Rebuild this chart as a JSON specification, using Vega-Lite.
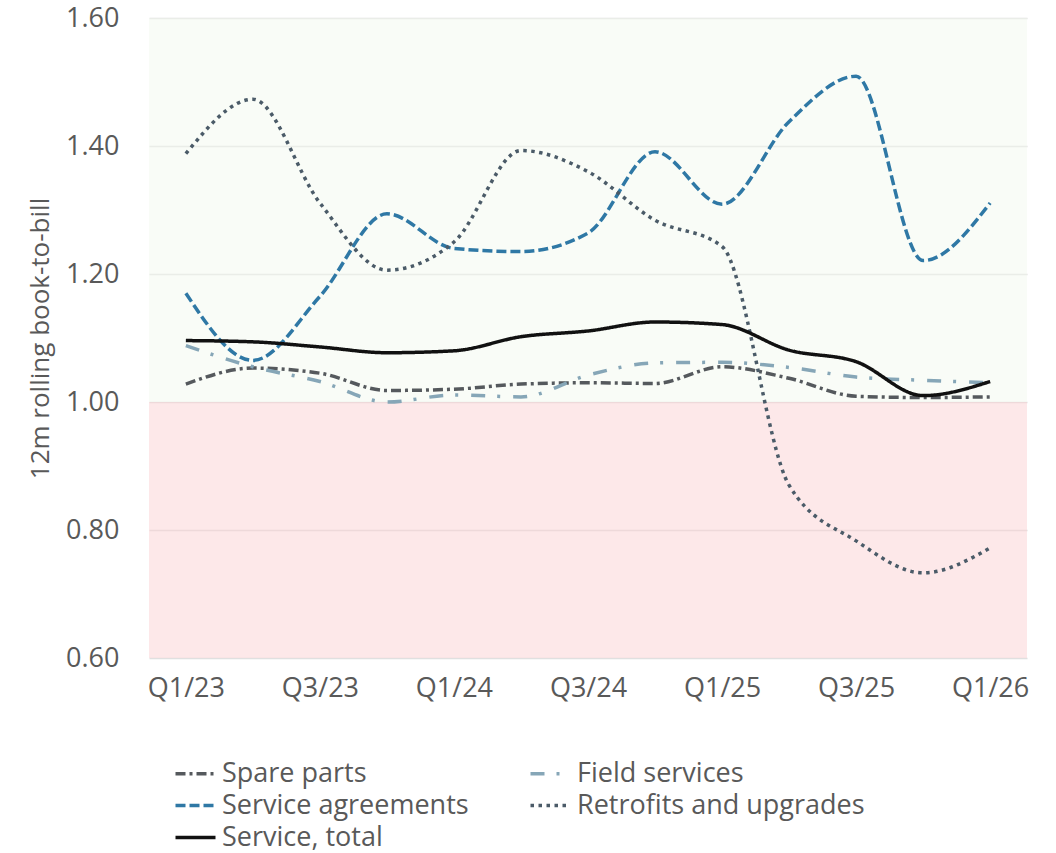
{
  "$schema": "https://vega.github.io/schema/vega-lite/v6.json",
  "width": 878,
  "height": 640,
  "autosize": {"type": "none"},
  "padding": {"left": 149, "top": 18, "right": 29, "bottom": 195},
  "background": "white",
  "config": {
    "font": "Open Sans",
    "view": {"stroke": null},
    "axis": {"labelFont": "Open Sans", "titleFont": "Open Sans"},
    "legend": {"labelFont": "Open Sans"}
  },
  "layer": [
    {
      "data": {"values": [{"lo": 1.0, "hi": 1.6}]},
      "mark": {"type": "rect", "color": "#f3f9ef", "opacity": 0.5},
      "encoding": {
        "y": {"field": "lo", "type": "quantitative", "title": "12m rolling book-to-bill",
              "scale": {"domain": [0.6, 1.6], "nice": false, "zero": false}},
        "y2": {"field": "hi"}
      }
    },
    {
      "data": {"values": [{"lo": 0.6, "hi": 1.0}]},
      "mark": {"type": "rect", "color": "#fbd1d3", "opacity": 0.5},
      "encoding": {
        "y": {"field": "lo", "type": "quantitative", "title": "12m rolling book-to-bill"},
        "y2": {"field": "hi"}
      }
    },
    {
      "data": {
        "values": [
          {"q": "Q1/23", "series": "Spare parts", "v": 1.028},
          {"q": "Q2/23", "series": "Spare parts", "v": 1.053},
          {"q": "Q3/23", "series": "Spare parts", "v": 1.045},
          {"q": "Q4/23", "series": "Spare parts", "v": 1.018},
          {"q": "Q1/24", "series": "Spare parts", "v": 1.020},
          {"q": "Q2/24", "series": "Spare parts", "v": 1.028},
          {"q": "Q3/24", "series": "Spare parts", "v": 1.030},
          {"q": "Q4/24", "series": "Spare parts", "v": 1.029},
          {"q": "Q1/25", "series": "Spare parts", "v": 1.055},
          {"q": "Q2/25", "series": "Spare parts", "v": 1.037},
          {"q": "Q3/25", "series": "Spare parts", "v": 1.009},
          {"q": "Q4/25", "series": "Spare parts", "v": 1.007},
          {"q": "Q1/26", "series": "Spare parts", "v": 1.008},
          {"q": "Q1/23", "series": "Field services", "v": 1.088},
          {"q": "Q2/23", "series": "Field services", "v": 1.055},
          {"q": "Q3/23", "series": "Field services", "v": 1.032},
          {"q": "Q4/23", "series": "Field services", "v": 1.000},
          {"q": "Q1/24", "series": "Field services", "v": 1.011},
          {"q": "Q2/24", "series": "Field services", "v": 1.008},
          {"q": "Q3/24", "series": "Field services", "v": 1.042},
          {"q": "Q4/24", "series": "Field services", "v": 1.061},
          {"q": "Q1/25", "series": "Field services", "v": 1.062},
          {"q": "Q2/25", "series": "Field services", "v": 1.054},
          {"q": "Q3/25", "series": "Field services", "v": 1.039},
          {"q": "Q4/25", "series": "Field services", "v": 1.034},
          {"q": "Q1/26", "series": "Field services", "v": 1.030},
          {"q": "Q1/23", "series": "Service agreements", "v": 1.170},
          {"q": "Q2/23", "series": "Service agreements", "v": 1.065},
          {"q": "Q3/23", "series": "Service agreements", "v": 1.165},
          {"q": "Q4/23", "series": "Service agreements", "v": 1.294},
          {"q": "Q1/24", "series": "Service agreements", "v": 1.240},
          {"q": "Q2/24", "series": "Service agreements", "v": 1.235},
          {"q": "Q3/24", "series": "Service agreements", "v": 1.264},
          {"q": "Q4/24", "series": "Service agreements", "v": 1.391},
          {"q": "Q1/25", "series": "Service agreements", "v": 1.309},
          {"q": "Q2/25", "series": "Service agreements", "v": 1.438},
          {"q": "Q3/25", "series": "Service agreements", "v": 1.509},
          {"q": "Q4/25", "series": "Service agreements", "v": 1.221},
          {"q": "Q1/26", "series": "Service agreements", "v": 1.311},
          {"q": "Q1/23", "series": "Retrofits and upgrades", "v": 1.388},
          {"q": "Q2/23", "series": "Retrofits and upgrades", "v": 1.473},
          {"q": "Q3/23", "series": "Retrofits and upgrades", "v": 1.311},
          {"q": "Q4/23", "series": "Retrofits and upgrades", "v": 1.206},
          {"q": "Q1/24", "series": "Retrofits and upgrades", "v": 1.250},
          {"q": "Q2/24", "series": "Retrofits and upgrades", "v": 1.393},
          {"q": "Q3/24", "series": "Retrofits and upgrades", "v": 1.360},
          {"q": "Q4/24", "series": "Retrofits and upgrades", "v": 1.284},
          {"q": "Q1/25", "series": "Retrofits and upgrades", "v": 1.243},
          {"q": "Q2/25", "series": "Retrofits and upgrades", "v": 0.870},
          {"q": "Q3/25", "series": "Retrofits and upgrades", "v": 0.783},
          {"q": "Q4/25", "series": "Retrofits and upgrades", "v": 0.733},
          {"q": "Q1/26", "series": "Retrofits and upgrades", "v": 0.772},
          {"q": "Q1/23", "series": "Service, total", "v": 1.096},
          {"q": "Q2/23", "series": "Service, total", "v": 1.094},
          {"q": "Q3/23", "series": "Service, total", "v": 1.086},
          {"q": "Q4/23", "series": "Service, total", "v": 1.077},
          {"q": "Q1/24", "series": "Service, total", "v": 1.080},
          {"q": "Q2/24", "series": "Service, total", "v": 1.102},
          {"q": "Q3/24", "series": "Service, total", "v": 1.111},
          {"q": "Q4/24", "series": "Service, total", "v": 1.125},
          {"q": "Q1/25", "series": "Service, total", "v": 1.121},
          {"q": "Q2/25", "series": "Service, total", "v": 1.081},
          {"q": "Q3/25", "series": "Service, total", "v": 1.063},
          {"q": "Q4/25", "series": "Service, total", "v": 1.010},
          {"q": "Q1/26", "series": "Service, total", "v": 1.032}
        ]
      },
      "mark": {"type": "line", "interpolate": "monotone", "strokeWidth": 3.5},
      "encoding": {
        "x": {
          "field": "q", "type": "ordinal", "sort": null,
          "scale": {"type": "point", "padding": 0.55},
          "axis": {
            "values": ["Q1/23", "Q3/23", "Q1/24", "Q3/24", "Q1/25", "Q3/25", "Q1/26"],
            "title": null, "labelAngle": 0, "domain": false, "ticks": false, "grid": false,
            "labelFontSize": 27, "labelColor": "#595959", "labelPadding": 17
          }
        },
        "y": {
          "field": "v", "type": "quantitative", "title": "12m rolling book-to-bill",
          "axis": {
            "values": [0.6, 0.8, 1.0, 1.2, 1.4, 1.6], "format": ".2f",
            "grid": true, "gridColor": "#e0e0e0", "gridWidth": 1.5,
            "domain": false, "ticks": false,
            "labelFontSize": 27, "labelColor": "#595959", "labelPadding": 30,
            "titleFontSize": 26, "titleColor": "#595959", "titleFontWeight": "normal", "titlePadding": 12
          }
        },
        "color": {
          "field": "series", "type": "nominal",
          "scale": {
            "domain": ["Spare parts", "Service agreements", "Service, total", "Field services", "Retrofits and upgrades"],
            "range": ["#55595d", "#2f78a5", "#111111", "#86a6b7", "#4b5b68"]
          },
          "legend": {
            "orient": "none", "legendX": 33, "legendY": 742, "columns": 2, "title": null, "gridAlign": "each",
            "symbolType": "M-2,0H2", "symbolSize": 400, "symbolStrokeWidth": 3.5,
            "labelFontSize": 27, "labelColor": "#595959", "labelLimit": 500,
            "columnPadding": 54, "rowPadding": 4, "labelOffset": 13
          }
        },
        "strokeDash": {
          "field": "series", "type": "nominal",
          "scale": {
            "domain": ["Spare parts", "Service agreements", "Service, total", "Field services", "Retrofits and upgrades"],
            "range": [[10, 4, 3, 4], [10, 4], [1, 0], [14, 12, 3, 13], [3.5, 4.5]]
          },
          "legend": {
            "orient": "none", "legendX": 33, "legendY": 742, "columns": 2, "title": null, "gridAlign": "each",
            "symbolType": "M-2,0H2", "symbolSize": 400, "symbolStrokeWidth": 3.5,
            "labelFontSize": 27, "labelColor": "#595959", "labelLimit": 500,
            "columnPadding": 54, "rowPadding": 4, "labelOffset": 13
          }
        }
      }
    }
  ]
}
